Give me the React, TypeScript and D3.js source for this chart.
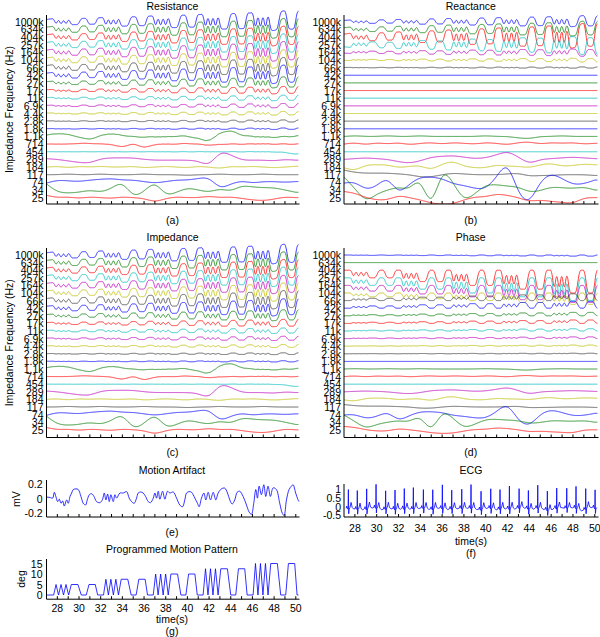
import React from "react";
import * as d3 from "d3";

const FONT = "'Liberation Sans', Arial, Helvetica, sans-serif";
const T_START = 27;
const T_END = 50.25;

const FREQ_LABELS = ["1000k", "634k", "404k", "257k", "164k", "104k", "66k", "42k", "27k", "17k", "11k", "6.9k", "4.4k", "2.8k", "1.8k", "1.1k", "714", "454", "289", "184", "117", "74", "34", "25"];
const TRACE_COLORS = ["#0000ff", "#008000", "#ff0000", "#00bfbf", "#bf00bf", "#bfbf00", "#404040"];

// Programmed motion pattern (time s, degrees)
const MOTION_T = [27.0, 27.66, 27.88, 28.11, 28.34, 28.57, 28.8, 29.04, 29.29, 29.9, 30.21, 30.67, 30.92, 31.5, 31.72,
  32.26, 32.48, 32.71, 32.94, 33.17, 33.4, 33.64, 33.89, 34.5, 34.81, 35.27, 35.52, 36.1, 36.32,
  36.85, 37.07, 37.3, 37.53, 37.76, 37.99, 38.23, 38.48, 39.09, 39.4, 39.86, 40.11, 40.69, 40.91,
  41.45, 41.67, 41.9, 42.13, 42.36, 42.59, 42.83, 43.08, 43.69, 44.0, 44.46, 44.71, 45.29, 45.51,
  46.06, 46.28, 46.51, 46.74, 46.97, 47.2, 47.44, 47.69, 48.3, 48.61, 49.07, 49.32, 49.9, 50.12, 50.3];
const MOTION_DEG = [0, 0, 5, 0, 5, 0, 5, 0, 5, 5, 0, 0, 5, 5, 0,
  0, 7.5, 0, 7.5, 0, 7.5, 0, 7.5, 7.5, 0, 0, 7.5, 7.5, 0,
  0, 10, 0, 10, 0, 10, 0, 10, 10, 0, 0, 10, 10, 0,
  0, 12.5, 0, 12.5, 0, 12.5, 0, 12.5, 12.5, 0, 0, 12.5, 12.5, 0,
  0, 15, 0, 15, 0, 15, 0, 15, 15, 0, 0, 15, 15, 0, 0];

// Motion artifact (time s, mV)
const ART_T = [27.02, 27.32, 27.57, 27.72, 27.88, 28.03, 28.18, 28.34, 28.49, 28.64, 28.86, 29.01, 29.17, 29.32, 29.47, 29.72, 29.93, 30.18, 30.39, 30.61, 30.76, 30.95, 31.16, 31.38, 31.62, 31.93, 32.15, 32.33, 32.48, 32.64, 32.79, 32.94, 33.16, 33.31, 33.47, 33.77, 34.08, 34.39, 34.63, 34.85, 35.09, 35.31, 35.46, 35.68, 35.92, 36.14, 36.39, 36.6, 36.85, 37.0, 37.15, 37.31, 37.46, 37.71, 37.92, 38.17, 38.38, 38.69, 39.0, 39.3, 39.55, 39.76, 39.92, 40.16, 40.38, 40.69, 40.93, 41.08, 41.3, 41.52, 41.7, 41.92, 42.13, 42.38, 42.62, 42.84, 43.14, 43.45, 43.7, 43.91, 44.13, 44.37, 44.59, 44.83, 45.14, 45.45, 45.69, 45.91, 46.12, 46.31, 46.46, 46.62, 46.83, 47.05, 47.23, 47.44, 47.66, 47.91, 48.21, 48.52, 48.77, 48.92, 49.14, 49.38, 49.6, 49.75, 49.99, 50.21, 50.3];
const ART_MV = [0.019, 0.014, 0.005, 0.084, 0.019, -0.042, -0.009, -0.065, -0.033, -0.102, -0.019, -0.065, 0.028, 0.074, 0.121, 0.13, 0.121, 0.028, -0.065, -0.088, -0.019, 0.051, 0.065, 0.028, -0.042, -0.056, -0.019, 0.074, -0.019, 0.06, -0.042, 0.051, -0.042, 0.051, 0.005, 0.074, 0.074, 0.093, 0.005, -0.042, -0.065, 0.005, 0.074, 0.088, 0.074, 0.028, -0.042, -0.056, 0.005, 0.074, 0.005, 0.098, -0.009, 0.098, -0.009, 0.098, 0.074, 0.088, 0.005, -0.088, -0.112, -0.019, 0.074, 0.093, 0.084, 0.005, -0.065, -0.112, 0.005, 0.074, -0.019, 0.084, -0.019, 0.084, -0.019, 0.074, 0.13, 0.14, 0.074, -0.019, -0.074, -0.019, 0.084, 0.098, 0.028, -0.088, -0.181, -0.214, -0.065, 0.121, 0.005, 0.167, 0.051, 0.186, 0.028, 0.167, 0.028, 0.144, 0.121, -0.065, -0.205, -0.228, -0.019, 0.121, 0.167, 0.186, 0.074, -0.019, -0.042];

// ECG beats
const ECG_BEAT_T = [27.4, 28.22, 29.08, 29.94, 30.82, 31.68, 32.53, 33.36, 34.28, 35.14, 36.02, 36.88, 37.8, 38.65, 39.57, 40.46, 41.31, 42.17, 43.06, 43.91, 44.77, 45.65, 46.51, 47.43, 48.28, 49.17, 50.03];
const ECG_R = [0.98, 0.94, 1.04, 1.23, 0.91, 0.98, 1.04, 1.08, 0.94, 1.0, 1.23, 0.94, 0.98, 1.23, 0.94, 1.0, 0.98, 1.19, 0.98, 0.94, 1.19, 0.98, 1.04, 0.98, 1.13, 1.04, 0.94];
const ECG_SHAPE_DT = [-0.2, -0.15, -0.1, -0.03, 0, 0.03, 0.07, 0.15, 0.25, 0.35, 0.5];
const ECG_SHAPE_V = [-0.1, 0.02, -0.1, -0.16, 0, -0.42, -0.15, -0.05, 0.22, -0.08, -0.15];
const ECG_R_INDEX = 4;

// per-trace motion gains (rows per degree)
const GAIN_RESISTANCE = [0.16, 0.16, 0.16, 0.16, 0.16, 0.15, 0.15, 0.15, 0.09, 0.06, 0.045, 0.035, 0.03, 0.018, 0.012, 0.006, 0.004, 0.003, 0, 0, 0, 0, 0, 0];
const GAIN_REACTANCE = [0.09, 0.12, 0.2, -0.15, -0.06, -0.03, 0.01, 0, 0, 0, 0, 0, 0, 0, 0, 0, 0, 0, 0, 0, 0, 0, 0, 0];
const GAIN_IMPEDANCE = [0.16, 0.16, 0.16, 0.16, 0.15, 0.15, 0.15, 0.14, 0.09, 0.06, 0.045, 0.035, 0.025, 0.015, 0.01, 0.005, 0.003, 0.002, 0, 0, 0, 0, 0, 0];
const GAIN_PHASE = [0.01, 0, 0.2, 0.2, 0.15, 0.1, -0.06, -0.06, -0.03, -0.03, -0.02, -0.015, -0.01, -0.005, 0, 0, 0, 0, 0, 0, 0, 0, 0, 0];

// slow wander of low-frequency traces (rows, up positive), one value per second 27..50
const WANDER_T = [27, 28, 29, 30, 31, 32, 33, 34, 35, 36, 37, 38, 39, 40, 41, 42, 43, 44, 45, 46, 47, 48, 49, 50];
const RES_1K1 = [0.17, 0.4, 0.3, -0.1, -0.48, 0.15, 0.4, 0.15, -0.05, -0.1, -0.05, -0.05, 0.05, 0.05, -0.25, -0.8, 0.6, 0.8, 0.15, -0.05, -0.05, -0.1, -0.05, 0.05];
const RES_714 = [0, 0, 0, 0.1, 0.1, 0, 0, -0.5, 0.2, -0.6, 0, 0, 0, 0.1, 0, -0.2, 0, 0, 0, 0, 0.05, 0, 0, 0];
const RES_454 = [0, 0, 0, 0, 0, 0, 0, 0, 0, 0, 0, 0, 0, 0, 0, 0, 0, 0, 0, 0, 0, 0, -0.1, -0.3];
const RES_289 = [0.1, 0, -0.2, -0.4, -0.5, 0.1, 0.2, 0.2, 0.2, 0, -0.1, -0.1, -0.1, -0.1, -0.2, -0.9, 1.1, 0.6, -0.1, -0.1, -0.1, -0.2, 0, -0.1];
const RES_184 = [0, 0.1, -0.1, 0.1, 0, 0.1, 0, 0, 0.1, -0.1, 0, 0.1, 0, -0.1, 0.1, 0, -0.2, 0.1, 0, 0.1, 0, -0.1, 0, 0.1];
const RES_117 = [0, 0, 0.1, 0, 0, 0.1, 0, 0, 0, 0.1, 0, 0, 0, -0.1, 0, 0, 0.1, 0, 0, 0, 0.1, 0, 0, 0];
const RES_74 = [-0.1, 0.3, 0.2, 0.1, 0.3, 0.4, 0.5, 0.3, 0.3, 0.1, -0.1, 0.1, 0.3, 0.3, 0.5, 0.7, -0.9, -0.2, 0.2, -0.1, 0.1, 0.1, 0, 0.1];
const RES_34 = [0.8, -0.3, -0.4, -0.3, 0, -0.3, 0.2, 1.2, -1.0, -0.2, 1.2, -0.8, -0.3, 0.3, 0, -0.3, 0.2, -0.2, 0.6, 0.4, 0.3, 0.3, 0, -0.3];
const RES_25 = [0.3, 0, 0.1, -0.1, 0.1, 0, -0.1, 0.1, 0, -0.1, -0.6, -0.1, 0.1, 0, 0, 0.2, 0, 0.1, -0.1, -0.3, -0.4, -0.2, 0.1, 0];

const REA_1K1 = [0, 0.1, 0, 0, 0.1, 0, 0, 0.1, 0, 0, 0, 0, 0, 0.1, 0, 0, -0.2, -0.3, 0, 0, 0.1, 0, 0, 0];
const REA_714 = [0, 0.2, -0.1, 0.2, 0, 0.2, -0.1, 0.1, 0.2, 0, 0.2, 0.1, 0, 0.2, 0.1, -0.1, 0.2, 0.3, 0, 0.2, 0.1, 0.2, 0, 0.1];
const REA_289 = [0, 0.1, 0.2, 0.1, 0, -0.3, -0.5, -0.2, 0.3, 0.4, 0.5, 0.3, 0.1, 0.2, 0.6, 1.1, 0.3, -0.6, 0, 0.1, 0.2, 0.3, 0.2, 0.1];
const REA_184 = [-0.1, -0.5, 0.3, 0.3, 0.3, -0.1, 0.1, 0.2, -0.4, 0.4, 0.8, 0.1, -0.1, -0.1, 0.3, 0.1, 0.1, -0.1, 0.3, 0.5, 0.1, 0.2, 0.4, 0.3];
const REA_117 = [0.6, 0.3, 0.2, 0.2, 0.2, 0.1, 0, -0.3, -0.3, 0, 0.2, 0.1, 0, 0, 0, 0.1, 0.2, -0.2, -0.1, -0.1, 0, 0, 0, -0.1];
const REA_74 = [-0.1, 0.1, -1.0, -0.5, 0.8, -1.6, -0.2, 0.7, 0.7, 0.5, -0.2, -0.4, -0.8, -0.9, 0.7, 2.9, -1.6, -2.9, 0.2, 1.2, 0.5, -0.3, -0.2, 0.3];
const REA_34 = [1.7, 0.2, -1.6, -0.5, 0, 0.4, 0, 1.8, -2.8, 3.0, 1.0, -1.5, -0.5, 0.7, 0.7, 0.5, 0.4, -0.3, -0.1, 0.4, 0.3, 0.2, 0.4, 0];
const REA_25 = [0.8, 0.6, 0, -0.3, -0.3, 0.3, 0, -0.3, -0.7, -0.9, -0.8, -0.3, 0.1, 0.1, 0.5, 0.3, 0, -0.5, -0.3, -0.5, -0.6, -0.8, 0, 0];

const WANDER_RESISTIVE: Record<number, number[]> = { 15: RES_1K1, 16: RES_714, 17: RES_454, 18: RES_289, 19: RES_184, 20: RES_117, 21: RES_74, 22: RES_34, 23: RES_25 };
const WANDER_REACTIVE: Record<number, number[]> = { 15: REA_1K1, 16: REA_714, 18: REA_289, 19: REA_184, 20: REA_117, 21: REA_74, 22: REA_34, 23: REA_25 };

const TIME_TICKS = d3.range(28, 51, 1);
const TIME_LABELS = d3.range(28, 51, 2);
const ART_TICKS = [-0.2, 0, 0.2];
const DEG_TICKS = [0, 5, 10, 15];
const ECG_TICKS = [-0.5, 0, 0.5, 1];

// ---------- signal helpers ----------
function lerpSeries(xs: number[], ys: number[], x: number) {
  const i = d3.bisectRight(xs, x);
  if (i <= 0) return ys[0];
  if (i >= xs.length) return ys[ys.length - 1];
  const x0 = xs[i - 1], x1 = xs[i];
  const f = x1 === x0 ? 0 : (x - x0) / (x1 - x0);
  return ys[i - 1] + f * (ys[i] - ys[i - 1]);
}
function movingAvg(a: number[], h: number) {
  const pre = [0];
  for (const v of a) pre.push(pre[pre.length - 1] + v);
  return a.map((_, k) => {
    const lo = Math.max(0, k - h), hi = Math.min(a.length - 1, k + h);
    return (pre[hi + 1] - pre[lo]) / (hi - lo + 1);
  });
}

const SAMPLE_T = d3.range(T_START, T_END + 1e-9, 0.02);
const RAW = SAMPLE_T.map((t) => lerpSeries(MOTION_T, MOTION_DEG, t));
const SMOOTH = movingAvg(RAW, 6);
const MEAN = movingAvg(RAW, 115);
const HP = SMOOTH.map((v, k) => v - MEAN[k]);

type PanelProps = {
  id: string; left: number; right: number; rowTop: number; rowStep: number;
  axisTop: number; axisBottom: number; title: string; titleY: number; tag: string; tagY: number;
  gains: number[]; wander: Record<number, number[]>; wanderScale: number; mode: "hp" | "raw";
  yTitle?: string;
};

function StackPanel(p: PanelProps) {
  const xs = d3.scaleLinear().domain([T_START, T_END]).range([p.left, p.right]);
  const ys = d3.scaleLinear().domain([0, 23]).range([p.rowTop, p.rowTop + 23 * p.rowStep]);
  const line = d3.line<[number, number]>().x((d) => xs(d[0])).y((d) => ys(d[1]));
  const sig = p.mode === "hp" ? HP : SMOOTH;
  const cx = (p.left + p.right) / 2;
  const paths = FREQ_LABELS.map((_, i) => {
    const w = p.wander[i];
    const wf = w ? d3.interpolateBasis(w) : null;
    const span = WANDER_T[WANDER_T.length - 1] - WANDER_T[0];
    const pts: [number, number][] = SAMPLE_T.map((t, k) => {
      const u = Math.max(0, Math.min(1, (t - WANDER_T[0]) / span));
      const wv = wf ? wf(u) * p.wanderScale : 0;
      return [t, i + p.gains[i] * sig[k] - wv];
    });
    return line(pts) || "";
  });
  return (
    <g>
      <defs>
        <clipPath id={p.id}>
          <rect x={p.left} y={p.axisTop - 10} width={p.right - p.left + 1} height={p.axisBottom - p.axisTop + 10} />
        </clipPath>
      </defs>
      <text x={cx} y={p.titleY} textAnchor="middle" dominantBaseline="central" fontSize={10.5}>{p.title}</text>
      <g clipPath={`url(#${p.id})`}>
        {paths.map((d, i) => (
          <path key={i} d={d} fill="none" stroke={TRACE_COLORS[i % 7]} strokeWidth={1} strokeOpacity={0.8} />
        ))}
      </g>
      <line x1={p.left} x2={p.left} y1={p.axisTop} y2={p.axisBottom} stroke="#000" strokeWidth={1} />
      <line x1={p.left} x2={p.right + 1} y1={p.axisBottom} y2={p.axisBottom} stroke="#000" strokeWidth={1} />
      {TIME_TICKS.map((t) => (
        <line key={t} x1={xs(t)} x2={xs(t)} y1={p.axisBottom} y2={p.axisBottom - 3} stroke="#000" strokeWidth={1} />
      ))}
      {FREQ_LABELS.map((lab, i) => (
        <text key={lab} x={p.left - 3} y={ys(i)} textAnchor="end" dominantBaseline="central" fontSize={10.5}>{lab}</text>
      ))}
      <text x={cx} y={p.tagY} textAnchor="middle" dominantBaseline="central" fontSize={10.5}>{p.tag}</text>
      {p.yTitle && (
        <text transform={`translate(9,${(p.axisTop + p.axisBottom) / 2}) rotate(-90)`} textAnchor="middle" dominantBaseline="central" fontSize={10.5}>{p.yTitle}</text>
      )}
    </g>
  );
}

function App() {
  const L = { left: 46.5, right: 298.5 };
  const R = { left: 344, right: 597.5 };

  // Motion artifact (e)
  const xE = d3.scaleLinear().domain([T_START, T_END]).range([L.left, L.right]);
  const yE = d3.scaleLinear().domain([-0.25, 0.25]).range([517, 480]);
  const artPts: [number, number][] = ART_T.map((t, i) => [t, ART_MV[i]]);
  const artPath = d3.line<[number, number]>().x((d) => xE(d[0])).y((d) => yE(d[1])).curve(d3.curveCatmullRom.alpha(0.5))(artPts) || "";

  // Programmed motion (g)
  const yG = d3.scaleLinear().domain([-2, 17]).range([599.2, 559.3]);
  const motPts: [number, number][] = MOTION_T.map((t, i) => [Math.min(t, T_END), MOTION_DEG[i]]);
  const motPath = d3.line<[number, number]>().x((d) => xE(d[0])).y((d) => yG(d[1]))(motPts) || "";

  // ECG (f)
  const xF = d3.scaleLinear().domain([T_START, T_END]).range([R.left, R.right]);
  const yF = d3.scaleLinear().domain([-0.6, 1.3]).range([517, 484.1]);
  const ecgPts: [number, number][] = [];
  ECG_BEAT_T.forEach((bt, b) => {
    ECG_SHAPE_DT.forEach((dt, j) => {
      const t = bt + dt;
      if (t < T_START || t > T_END) return;
      const base = j === ECG_R_INDEX ? ECG_R[b] : ECG_SHAPE_V[j];
      ecgPts.push([t, base + 0.5 * lerpSeries(ART_T, ART_MV, t)]);
    });
  });
  const ecgPath = d3.line<[number, number]>().x((d) => xF(d[0])).y((d) => yF(d[1]))(ecgPts) || "";

  return (
    <svg width={600} height={637} style={{ position: "absolute", left: 0, top: 0, background: "#fff" }} fontFamily={FONT}>
      <rect width={600} height={637} fill="#fff" />
      <StackPanel id="cpa" {...L} rowTop={21.7} rowStep={7.65} axisTop={15} axisBottom={204} title="Resistance" titleY={6} tag="(a)" tagY={220}
        gains={GAIN_RESISTANCE} wander={WANDER_RESISTIVE} wanderScale={1} mode="hp" yTitle="Impedance Frequency (Hz)" />
      <StackPanel id="cpb" {...R} rowTop={21.7} rowStep={7.65} axisTop={15} axisBottom={204} title="Reactance" titleY={6} tag="(b)" tagY={220}
        gains={GAIN_REACTANCE} wander={WANDER_REACTIVE} wanderScale={1} mode="hp" />
      <StackPanel id="cpc" {...L} rowTop={255} rowStep={7.6} axisTop={248} axisBottom={437.5} title="Impedance" titleY={237} tag="(c)" tagY={452}
        gains={GAIN_IMPEDANCE} wander={WANDER_RESISTIVE} wanderScale={1} mode="hp" yTitle="Impedance Frequency (Hz)" />
      <StackPanel id="cpd" {...R} rowTop={255} rowStep={7.6} axisTop={248} axisBottom={437.5} title="Phase" titleY={237} tag="(d)" tagY={452}
        gains={GAIN_PHASE} wander={WANDER_REACTIVE} wanderScale={0.55} mode="raw" />

      {/* (e) Motion Artifact */}
      <text x={172} y={470} textAnchor="middle" dominantBaseline="central" fontSize={10.5}>Motion Artifact</text>
      <path d={artPath} fill="none" stroke="#0000ff" strokeWidth={1} strokeOpacity={0.8} />
      <line x1={L.left} x2={L.left} y1={480} y2={517} stroke="#000" />
      <line x1={L.left} x2={L.right + 1} y1={517} y2={517} stroke="#000" />
      {TIME_TICKS.map((t) => <line key={t} x1={xE(t)} x2={xE(t)} y1={517} y2={514} stroke="#000" />)}
      {ART_TICKS.map((v) => (
        <text key={v} x={L.left - 4} y={yE(v)} textAnchor="end" dominantBaseline="central" fontSize={10.5}>{String(v)}</text>
      ))}
      <text transform={`translate(16,499) rotate(-90)`} textAnchor="middle" dominantBaseline="central" fontSize={10.5}>mV</text>
      <text x={172} y={532} textAnchor="middle" dominantBaseline="central" fontSize={10.5}>(e)</text>

      {/* (g) Programmed Motion Pattern */}
      <text x={172} y={549} textAnchor="middle" dominantBaseline="central" fontSize={10.5}>Programmed Motion Pattern</text>
      <path d={motPath} fill="none" stroke="#0000ff" strokeWidth={1} strokeOpacity={0.8} />
      <line x1={L.left} x2={L.left} y1={559} y2={599.2} stroke="#000" />
      <line x1={L.left} x2={L.right + 1} y1={599.2} y2={599.2} stroke="#000" />
      {TIME_TICKS.map((t) => <line key={t} x1={xE(t)} x2={xE(t)} y1={599.2} y2={596.2} stroke="#000" />)}
      {DEG_TICKS.map((v) => (
        <text key={v} x={L.left - 4} y={yG(v)} textAnchor="end" dominantBaseline="central" fontSize={10.5}>{String(v)}</text>
      ))}
      {TIME_LABELS.map((t) => (
        <text key={t} x={xE(t)} y={607.5} textAnchor="middle" dominantBaseline="central" fontSize={10.5}>{String(t)}</text>
      ))}
      <text transform={`translate(21,579) rotate(-90)`} textAnchor="middle" dominantBaseline="central" fontSize={10.5}>deg</text>
      <text x={172} y={619} textAnchor="middle" dominantBaseline="central" fontSize={10.5}>time(s)</text>
      <text x={172} y={631} textAnchor="middle" dominantBaseline="central" fontSize={10.5}>(g)</text>

      {/* (f) ECG */}
      <text x={471} y={470} textAnchor="middle" dominantBaseline="central" fontSize={10.5}>ECG</text>
      <path d={ecgPath} fill="none" stroke="#0000ff" strokeWidth={1} strokeOpacity={0.8} />
      <line x1={R.left} x2={R.left} y1={484} y2={517} stroke="#000" />
      <line x1={R.left} x2={R.right + 1} y1={517} y2={517} stroke="#000" />
      {TIME_TICKS.map((t) => <line key={t} x1={xF(t)} x2={xF(t)} y1={517} y2={514} stroke="#000" />)}
      {ECG_TICKS.map((v) => (
        <text key={v} x={R.left - 3} y={yF(v)} textAnchor="end" dominantBaseline="central" fontSize={10.5}>{String(v)}</text>
      ))}
      {TIME_LABELS.map((t) => (
        <text key={t} x={xF(t)} y={527.5} textAnchor="middle" dominantBaseline="central" fontSize={10.5}>{String(t)}</text>
      ))}
      <text x={471} y={541} textAnchor="middle" dominantBaseline="central" fontSize={10.5}>time(s)</text>
      <text x={471} y={553} textAnchor="middle" dominantBaseline="central" fontSize={10.5}>(f)</text>
    </svg>
  );
}

export default App;
